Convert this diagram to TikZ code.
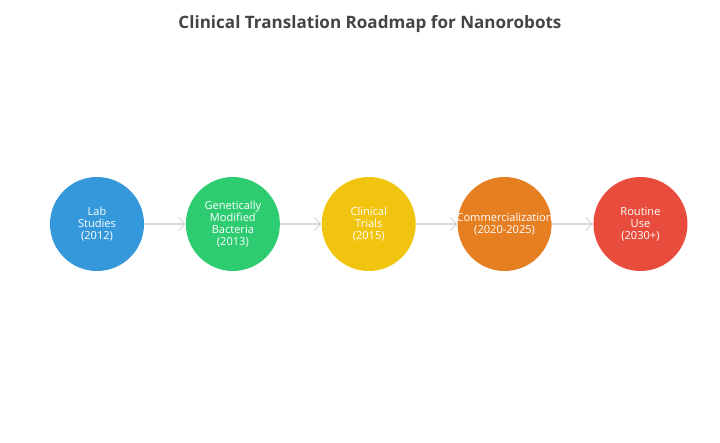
\documentclass[tikz,border=0pt]{standalone}
\usepackage{fontspec}
\setmainfont{Open Sans}
\usetikzlibrary{arrows.meta,positioning}

\definecolor{labblue}{HTML}{3498DB}
\definecolor{genegreen}{HTML}{2ECC71}
\definecolor{trialyellow}{HTML}{F1C40F}
\definecolor{commorange}{HTML}{E67E22}
\definecolor{routinered}{HTML}{E74C3C}
\definecolor{titlegray}{HTML}{444444}

\begin{document}
\begin{tikzpicture}[x=0.75pt,y=-0.75pt,
    stage/.style={circle,minimum size=70.5pt,inner sep=0pt},
    stagetext/.style={text=white,font=\fontsize{8.3}{9}\selectfont,align=center},
    flow/.style={draw=gray!30,line width=0.8pt,-{Straight Barb[length=4.5pt,width=9pt]}}]
    \useasboundingbox (0,0) rectangle (720,442);

    % Title
    \node[font=\bfseries\fontsize{12.8}{15}\selectfont, text=titlegray] (title) at (370,24) {Clinical Translation Roadmap for Nanorobots};

    % Stages of the roadmap
    \node[stage, fill=labblue, label={[stagetext]center:{Lab\\Studies\\(2012)}}] (lab) at (97,224) {};
    \node[stage, fill=genegreen, right=31pt of lab, label={[stagetext]center:{Genetically\\Modified\\Bacteria\\(2013)}}] (bacteria) {};
    \node[stage, fill=trialyellow, right=31pt of bacteria, label={[stagetext]center:{Clinical\\Trials\\(2015)}}] (trials) {};
    \node[stage, fill=commorange, right=31pt of trials, label={[stagetext]center:{Commercialization\\(2020-2025)}}] (commercial) {};
    \node[stage, fill=routinered, right=31pt of commercial, label={[stagetext]center:{Routine\\Use\\(2030+)}}] (routine) {};

    % Arrows between stages
    \draw[flow] (lab) -- (bacteria);
    \draw[flow] (bacteria) -- (trials);
    \draw[flow] (trials) -- (commercial);
    \draw[flow] (commercial) -- (routine);
\end{tikzpicture}
\end{document}
